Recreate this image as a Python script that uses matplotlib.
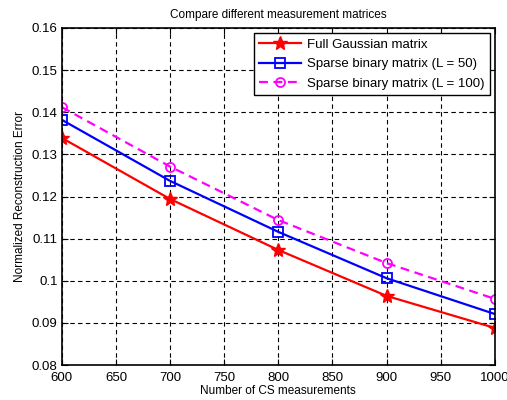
import matplotlib
matplotlib.use('Agg')
import matplotlib.pyplot as plt

# number of CS measurements and error for each sensing matrix
m = [600, 700, 800, 900, 1000]
err_gauss = [0.1339, 0.1194, 0.1073, 0.0964, 0.0888]
err_sb50 = [0.1382, 0.1237, 0.1116, 0.1006, 0.0921]
err_sb100 = [0.1412, 0.1271, 0.1144, 0.1042, 0.0957]

xticks = [600, 650, 700, 750, 800, 850, 900, 950, 1000]
yticks = [0.08, 0.09, 0.1, 0.11, 0.12, 0.13, 0.14, 0.15, 0.16]
yticklabels = ['0.08', '0.09', '0.1', '0.11', '0.12', '0.13', '0.14', '0.15', '0.16']

plt.rcParams['font.family'] = ['Liberation Sans', 'DejaVu Sans']
plt.rcParams['font.size'] = 8

fig = plt.figure(figsize=(5.07, 4.0), dpi=100)
ax = fig.add_axes([0.122, 0.0875, 0.854, 0.8425])

ax.plot(m, err_gauss, '-*', color='#ff0000', lw=1.6, ms=10,
        label='Full Gaussian matrix')
ax.plot(m, err_sb50, '-s', color='#0000ff', lw=1.6, ms=6.5, mfc='none', mew=1.3,
        label='Sparse binary matrix (L = 50)')
ax.plot(m, err_sb100, '--o', color='#ff00ff', lw=1.6, ms=6.5, mfc='none', mew=1.3,
        dashes=(4, 2.5), label='Sparse binary matrix (L = 100)')

ax.set_xlim(600, 1000)
ax.set_ylim(0.08, 0.16)
ax.set_xticks(xticks)
ax.set_yticks(yticks)
ax.set_yticklabels(yticklabels)
ax.tick_params(direction='in', length=4, labelsize=9.5, pad=3,
               top=True, right=True)
ax.tick_params(axis='x', pad=5)
ax.grid(True, color='k', linestyle=(0, (4, 3)), linewidth=0.8)
for s in ax.spines.values():
    s.set_linewidth(1.2)

ax.set_title('Compare different measurement matrices', fontsize=8.5, pad=7)
ax.set_xlabel('Number of CS measurements', fontsize=8.5, labelpad=1)
ax.set_ylabel('Normalized Reconstruction Error', fontsize=8.5, labelpad=4)

leg = ax.legend(loc='upper right', fontsize=9.5, fancybox=False, framealpha=1,
                edgecolor='k', handlelength=3.2, handletextpad=0.4,
                borderaxespad=0.4, labelspacing=0.55, borderpad=0.4)
leg.get_frame().set_linewidth(1.0)

fig.savefig('out.png', dpi=100)
